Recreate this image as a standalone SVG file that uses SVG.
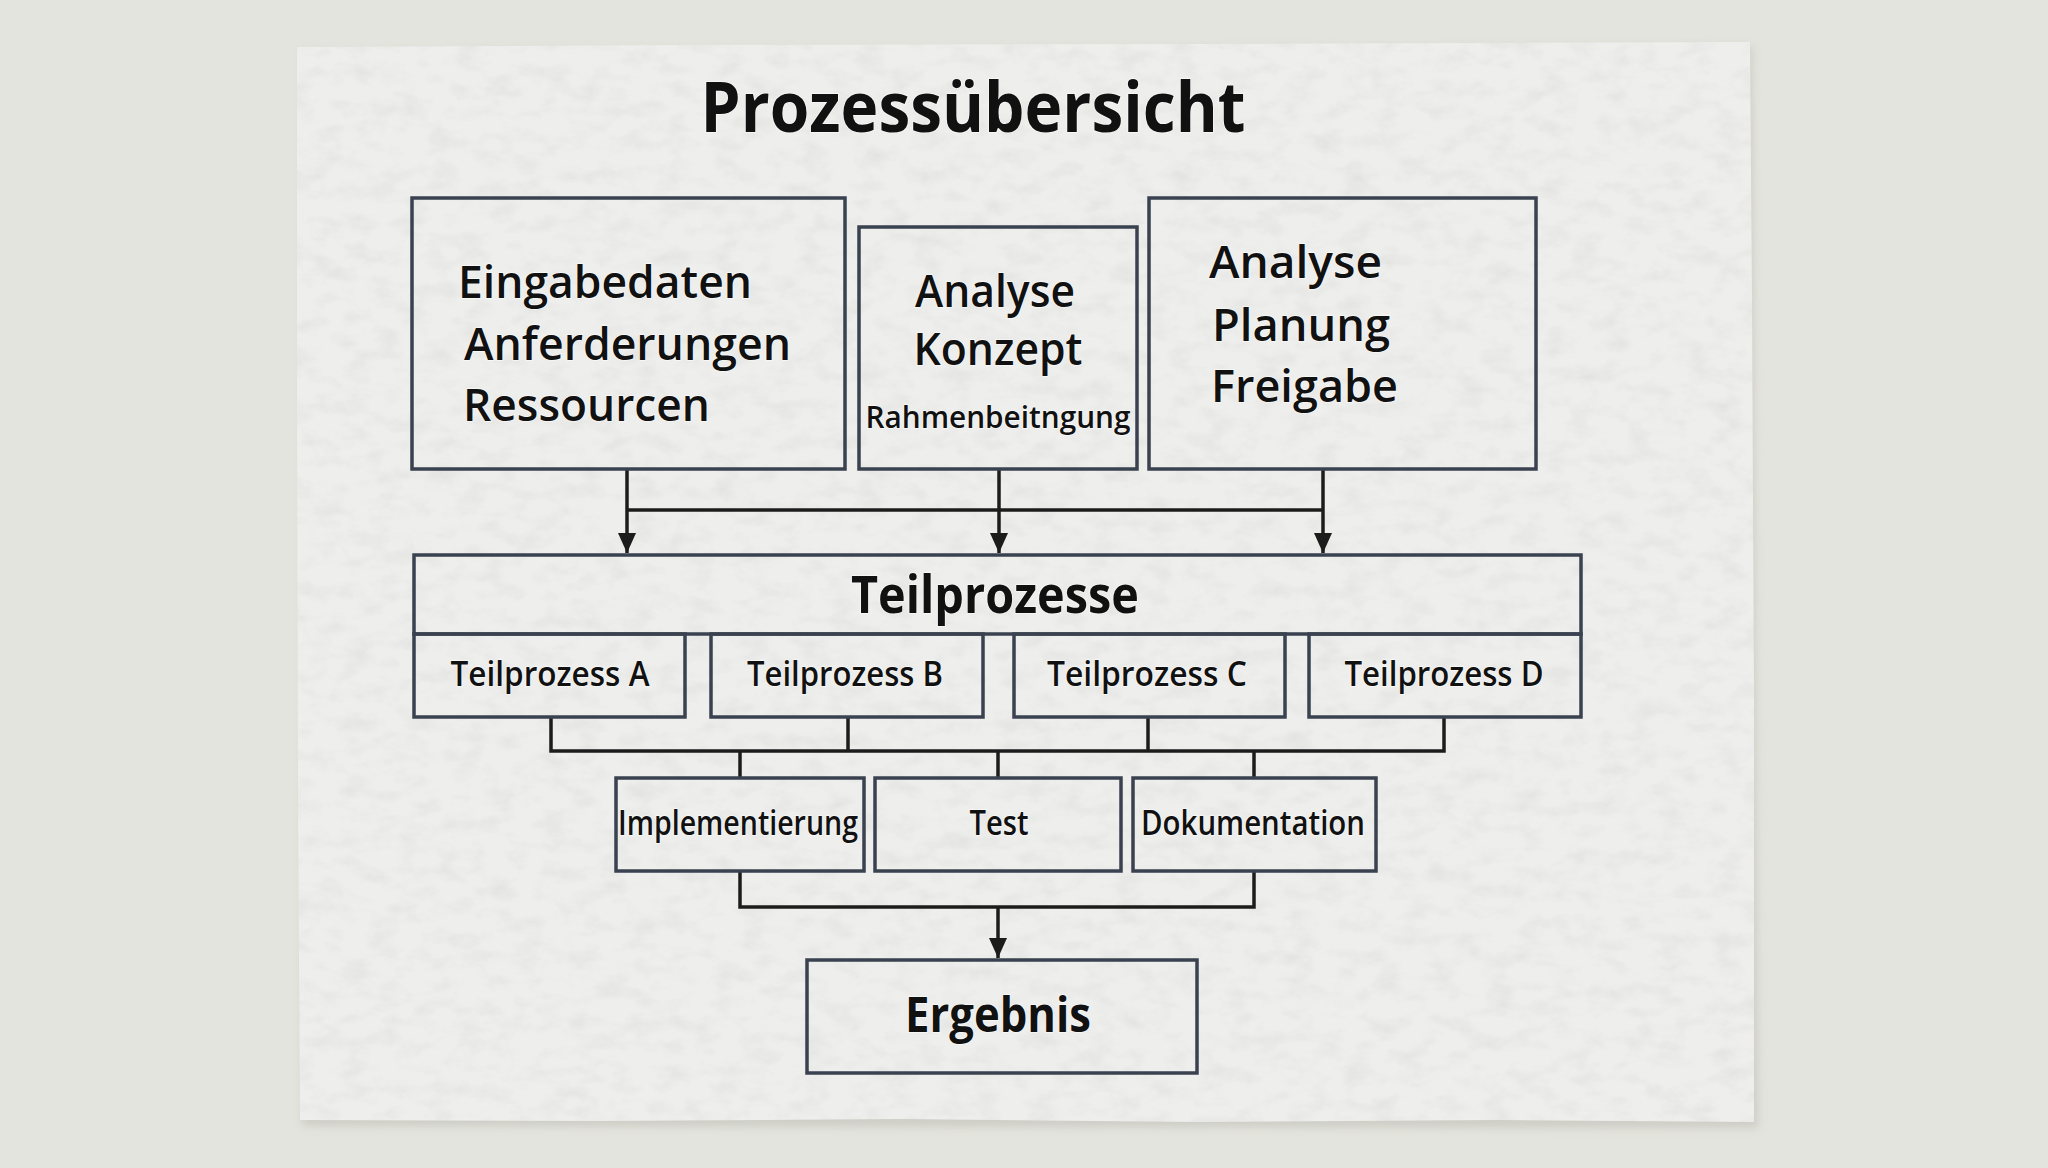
<svg xmlns="http://www.w3.org/2000/svg" width="2048" height="1168" viewBox="0 0 2048 1168">
<style>
  .box { fill: none; stroke: #3a4250; stroke-width: 3.5; }
  .ln { fill: none; stroke: #1c1c1c; stroke-width: 3.5; }
  text { font-family: "Open Sans", "Noto Sans", "Liberation Sans", sans-serif; fill: #111111; stroke: #ffffff; stroke-width: 1.5; stroke-opacity: 0.7; paint-order: stroke; }
  .title { font-size: 70px; font-weight: 700; }
  .big { font-size: 46px; font-weight: 600; }
  .mid { font-size: 34px; font-weight: 600; }
  .small { font-size: 31px; font-weight: 600; }
  .head { font-size: 52px; font-weight: 700; }
  .res { font-size: 48px; font-weight: 700; }
</style>
<defs>
  <marker id="arr" viewBox="0 0 20 18" refX="20" refY="9" markerWidth="20" markerHeight="18" markerUnits="userSpaceOnUse" orient="auto">
    <path d="M0,0 L20,9 L0,18 Z" fill="#1c1c1c"/>
  </marker>
  <filter id="tex" x="0" y="0" width="100%" height="100%">
    <feTurbulence type="fractalNoise" baseFrequency="0.035 0.06" numOctaves="4" seed="11" result="n"/>
    <feColorMatrix in="n" type="matrix" values="0 0 0 0 0.5  0 0 0 0 0.5  0 0 0 0 0.5  0 0 0 1.4 -0.62" result="m"/>
    <feComposite in="m" in2="SourceGraphic" operator="in"/>
  </filter>
  <filter id="sh" x="-5%" y="-5%" width="110%" height="110%">
    <feGaussianBlur stdDeviation="4"/>
  </filter>
</defs>
<rect width="2048" height="1168" fill="#e4e4de"/>
<path d="M302,52 L1752,46 L1758,1128 L302,1126 Z" fill="#b8b8b0" opacity="0.5" filter="url(#sh)"/>
<path id="paper" d="M297,47 L700,45 L1200,44 L1750,42 L1752,300 L1754,700 L1754,1122 L1500,1120 L1200,1122 L900,1119 L600,1121 L300,1120 L298,800 L297,400 Z" fill="#eeeeec"/>
<path d="M297,47 L700,45 L1200,44 L1750,42 L1752,300 L1754,700 L1754,1122 L1500,1120 L1200,1122 L900,1119 L600,1121 L300,1120 L298,800 L297,400 Z" fill="#ffffff" filter="url(#tex)" opacity="0.3"/>

<text class="title" x="973" y="132" text-anchor="middle" textLength="545" lengthAdjust="spacingAndGlyphs">Prozessübersicht</text>

<g id="connectors">
  <line class="ln" x1="627" y1="469" x2="627" y2="553" marker-end="url(#arr)"/>
  <line class="ln" x1="999" y1="469" x2="999" y2="553" marker-end="url(#arr)"/>
  <line class="ln" x1="1323" y1="469" x2="1323" y2="553" marker-end="url(#arr)"/>
  <line class="ln" x1="627" y1="510" x2="1323" y2="510"/>
  <polyline class="ln" points="551,717 551,751 1444,751 1444,717"/>
  <line class="ln" x1="848" y1="717" x2="848" y2="751"/>
  <line class="ln" x1="1148" y1="717" x2="1148" y2="751"/>
  <line class="ln" x1="740" y1="751" x2="740" y2="778"/>
  <line class="ln" x1="998" y1="751" x2="998" y2="778"/>
  <line class="ln" x1="1254" y1="751" x2="1254" y2="778"/>
  <polyline class="ln" points="740,871 740,907 1254,907 1254,871"/>
  <line class="ln" x1="998" y1="907" x2="998" y2="958" marker-end="url(#arr)"/>
</g>

<g id="node-eingabe">
  <rect class="box" x="412" y="198" width="433" height="271"/>
  <text class="big" x="458" y="298" textLength="294" lengthAdjust="spacingAndGlyphs">Eingabedaten</text>
  <text class="big" x="464" y="360" textLength="327" lengthAdjust="spacingAndGlyphs">Anferderungen</text>
  <text class="big" x="463" y="421" textLength="247" lengthAdjust="spacingAndGlyphs">Ressourcen</text>
</g>

<g id="node-analyse-konzept">
  <rect class="box" x="859" y="227" width="278" height="242"/>
  <text class="big" x="995" y="307" text-anchor="middle" textLength="160" lengthAdjust="spacingAndGlyphs">Analyse</text>
  <text class="big" x="998" y="365" text-anchor="middle" textLength="169" lengthAdjust="spacingAndGlyphs">Konzept</text>
  <text class="small" x="998" y="428" text-anchor="middle" textLength="265" lengthAdjust="spacingAndGlyphs">Rahmenbeitngung</text>
</g>

<g id="node-analyse-planung">
  <rect class="box" x="1149" y="198" width="387" height="271"/>
  <text class="big" x="1209" y="278" textLength="173" lengthAdjust="spacingAndGlyphs">Analyse</text>
  <text class="big" x="1212" y="341" textLength="178" lengthAdjust="spacingAndGlyphs">Planung</text>
  <text class="big" x="1211" y="402" textLength="187" lengthAdjust="spacingAndGlyphs">Freigabe</text>
</g>

<g id="node-teilprozesse">
  <rect class="box" x="414" y="555" width="1167" height="79"/>
  <text class="head" x="995" y="613" text-anchor="middle" textLength="288" lengthAdjust="spacingAndGlyphs">Teilprozesse</text>
</g>

<g id="node-tp-a">
  <rect class="box" x="414" y="634" width="271" height="83"/>
  <text class="mid" x="550" y="686" text-anchor="middle" textLength="199" lengthAdjust="spacingAndGlyphs">Teilprozess A</text>
</g>
<g id="node-tp-b">
  <rect class="box" x="711" y="634" width="272" height="83"/>
  <text class="mid" x="845" y="686" text-anchor="middle" textLength="196" lengthAdjust="spacingAndGlyphs">Teilprozess B</text>
</g>
<g id="node-tp-c">
  <rect class="box" x="1014" y="634" width="271" height="83"/>
  <text class="mid" x="1147" y="686" text-anchor="middle" textLength="200" lengthAdjust="spacingAndGlyphs">Teilprozess C</text>
</g>
<g id="node-tp-d">
  <rect class="box" x="1309" y="634" width="272" height="83"/>
  <text class="mid" x="1444" y="686" text-anchor="middle" textLength="199" lengthAdjust="spacingAndGlyphs">Teilprozess D</text>
</g>

<g id="node-impl">
  <rect class="box" x="616" y="778" width="248" height="93"/>
  <text class="mid" x="738" y="835" text-anchor="middle" textLength="240" lengthAdjust="spacingAndGlyphs">Implementierung</text>
</g>
<g id="node-test">
  <rect class="box" x="875" y="778" width="246" height="93"/>
  <text class="mid" x="999" y="835" text-anchor="middle" textLength="59" lengthAdjust="spacingAndGlyphs">Test</text>
</g>
<g id="node-doku">
  <rect class="box" x="1133" y="778" width="243" height="93"/>
  <text class="mid" x="1253" y="835" text-anchor="middle" textLength="224" lengthAdjust="spacingAndGlyphs">Dokumentation</text>
</g>

<g id="node-ergebnis">
  <rect class="box" x="807" y="960" width="390" height="113"/>
  <text class="res" x="998" y="1032" text-anchor="middle" textLength="186" lengthAdjust="spacingAndGlyphs">Ergebnis</text>
</g>
</svg>
